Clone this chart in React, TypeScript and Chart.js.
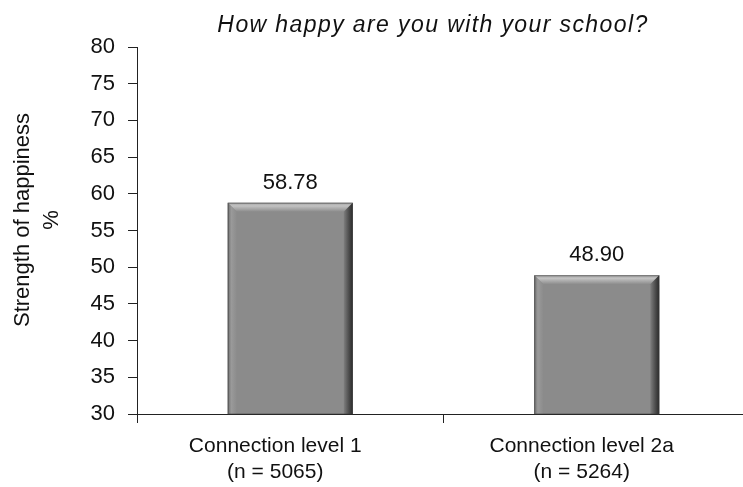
import React, { useEffect, useRef } from "react";
import { Chart, registerables } from "chart.js";

Chart.register(...registerables);

const categories: string[][] = [
  ["Connection level 1", "(n = 5065)"],
  ["Connection level 2a", "(n = 5264)"],
];
const values: number[] = [58.78, 48.9];
const valueLabels: string[] = ["58.78", "48.90"];
const chartTitle = "How happy are you with your school?";
const yTitle: string[] = ["Strength of happiness", "%"];
const yMin = 30;
const yMax = 80;
const yStep = 5;

const FONT = "'Liberation Sans', Arial, sans-serif";
const TEXT = "#111";

const decorPlugin = {
  id: "decor",
  afterDatasetsDraw(chart: any) {
    const ctx = chart.ctx;
    const area = chart.chartArea;
    const meta = chart.getDatasetMeta(0);
    meta.data.forEach((bar: any, i: number) => {
      const p = bar.getProps(["x", "y", "base", "width"], true);
      const l = p.x - p.width / 2;
      const r = p.x + p.width / 2;
      const t = p.y;
      const b = Math.min(p.base, area.bottom);
      const bv = 9;
      ctx.save();
      // top bevel
      let g = ctx.createLinearGradient(0, t, 0, t + bv);
      g.addColorStop(0, "#a4a4a4");
      g.addColorStop(0.35, "#c2c2c2");
      g.addColorStop(1, "#8c8c8c");
      ctx.fillStyle = g;
      ctx.beginPath();
      ctx.moveTo(l, t);
      ctx.lineTo(r, t);
      ctx.lineTo(r - bv, t + bv);
      ctx.lineTo(l + bv, t + bv);
      ctx.closePath();
      ctx.fill();
      // left bevel
      g = ctx.createLinearGradient(l, 0, l + bv, 0);
      g.addColorStop(0, "#6e6e6e");
      g.addColorStop(0.4, "#9a9a9a");
      g.addColorStop(1, "#8c8c8c");
      ctx.fillStyle = g;
      ctx.beginPath();
      ctx.moveTo(l, t);
      ctx.lineTo(l + bv, t + bv);
      ctx.lineTo(l + bv, b);
      ctx.lineTo(l, b);
      ctx.closePath();
      ctx.fill();
      // right bevel
      g = ctx.createLinearGradient(r - bv, 0, r, 0);
      g.addColorStop(0, "#7e7e7e");
      g.addColorStop(0.6, "#4a4a4a");
      g.addColorStop(1, "#2a2a2a");
      ctx.fillStyle = g;
      ctx.beginPath();
      ctx.moveTo(r, t);
      ctx.lineTo(r, b);
      ctx.lineTo(r - bv, b);
      ctx.lineTo(r - bv, t + bv);
      ctx.closePath();
      ctx.fill();
      ctx.strokeStyle = "rgba(60,60,60,0.55)";
      ctx.lineWidth = 1;
      ctx.strokeRect(l + 0.5, t + 0.5, r - l - 1, b - t - 0.5);
      // value label
      ctx.fillStyle = TEXT;
      ctx.font = `22px ${FONT}`;
      ctx.textAlign = "center";
      ctx.textBaseline = "alphabetic";
      ctx.fillText(valueLabels[i], p.x, t - 14);
      ctx.restore();
    });
  },
  afterDraw(chart: any) {
    const ctx = chart.ctx;
    ctx.save();
    // chart title
    ctx.fillStyle = TEXT;
    ctx.font = `italic 23px ${FONT}`;
    (ctx as any).letterSpacing = "1.4px";
    ctx.textAlign = "center";
    ctx.textBaseline = "middle";
    ctx.fillText(chartTitle, 433, 26);
    (ctx as any).letterSpacing = "0px";
    // y axis title
    ctx.font = `22px ${FONT}`;
    const xs = [23, 52];
    yTitle.forEach((line, k) => {
      ctx.save();
      ctx.translate(xs[k], 220);
      ctx.rotate(-Math.PI / 2);
      ctx.fillText(line, 0, 0);
      ctx.restore();
    });
    ctx.restore();
  },
};

export default function App() {
  const ref = useRef<HTMLCanvasElement | null>(null);
  useEffect(() => {
    if (!ref.current) return;
    const chart = new Chart(ref.current, {
      type: "bar",
      data: {
        labels: categories,
        datasets: [
          {
            data: values,
            backgroundColor: "#8b8b8b",
            borderWidth: 0,
            barPercentage: 0.816,
            categoryPercentage: 0.5,
          },
        ],
      },
      options: {
        animation: false,
        responsive: false,
        maintainAspectRatio: false,
        layout: { padding: { left: 0, right: 0, top: 47, bottom: 0 } },
        plugins: {
          legend: { display: false },
          tooltip: { enabled: false },
          title: { display: false },
        },
        scales: {
          x: {
            offset: true,
            afterFit: (s: any) => {
              s.height = 73;
            },
            grid: {
              display: true,
              drawOnChartArea: false,
              drawTicks: true,
              tickLength: 9,
              offset: true,
              color: "#222",
            },
            border: { display: true, color: "#222", width: 1 },
            ticks: {
              color: TEXT,
              font: { family: FONT, size: 21 },
              padding: 11,
              labelOffset: -15,
              maxRotation: 0,
              autoSkip: false,
            },
          },
          y: {
            min: yMin,
            max: yMax,
            afterFit: (s: any) => {
              s.width = 137;
            },
            grid: {
              display: true,
              drawOnChartArea: false,
              drawTicks: true,
              tickLength: 9,
              color: "#222",
            },
            border: { display: true, color: "#222", width: 1 },
            ticks: {
              stepSize: yStep,
              color: TEXT,
              font: { family: FONT, size: 22 },
              padding: 13,
            },
          },
        },
      },
      plugins: [decorPlugin],
    });
    return () => chart.destroy();
  }, []);
  return (
    <div
      style={{
        position: "fixed",
        left: 0,
        top: 0,
        width: 743,
        height: 487,
        overflow: "hidden",
        background: "#fff",
      }}
    >
      <canvas ref={ref} width={750} height={487} style={{ width: 750, height: 487, display: "block" }} />
    </div>
  );
}
